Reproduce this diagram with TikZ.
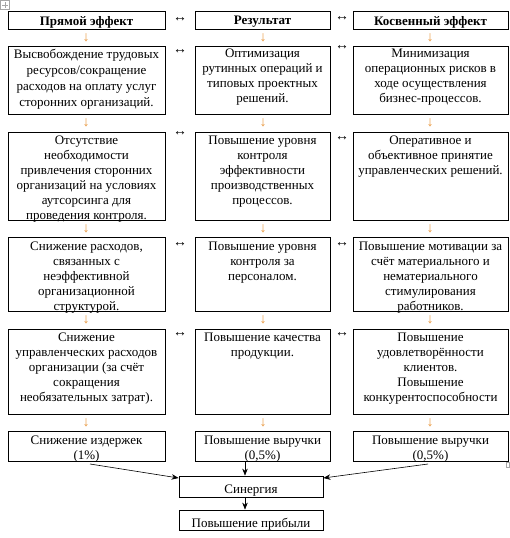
\documentclass[tikz,border=0pt]{standalone}
\usepackage{fontspec}
\setmainfont{Liberation Serif}
\usetikzlibrary{arrows.meta,fit}
\definecolor{arrorange}{HTML}{E8963C}
\newcommand\mybox[7]{%
  \node[boxst, fit={(#2,#3) (#4,#5)}] (#1) {};
  \node[txt, anchor=north, #6] (#1t) at (#1.north) {#7};
}
\begin{document}
\begin{tikzpicture}[x=1pt,y=-1pt,
  boxst/.style={draw, line width=0.8pt, inner sep=0pt},
  txt/.style={align=center, inner sep=0pt, font=\fontsize{13}{15}\selectfont},
  wide/.style={font=\fontsize{13}{16}\selectfont},
  tight/.style={font=\fontsize{13}{14.5}\selectfont},
  dn/.style={text=arrorange, inner sep=0pt, font=\fontsize{14}{14}\selectfont},
  lr/.style={inner sep=0pt, font=\fontsize{14}{14}\selectfont},
  blk/.style={-{Stealth[length=7pt,width=5.5pt]}, line width=0.6pt}]
\useasboundingbox (0,0) rectangle (510,538);
% Word artifacts
\draw[gray!70, line width=0.5pt] (0.5,0.5) rectangle (9,9);
\draw[gray!70, line width=0.5pt] (2,4.75) -- (7.5,4.75) (4.75,2) -- (4.75,7.5);
\draw[gray!70, line width=0.5pt] (506.5,462) rectangle (509.5,467);
% Row 0
\mybox{h1}{8}{11}{165}{29}{yshift=-5.5pt}{\textbf{Прямой эффект}}
\mybox{h2}{195}{11}{330}{29}{yshift=-5.5pt}{\textbf{Результат}}
\mybox{h3}{353}{11}{508}{29}{yshift=-5.5pt}{\textbf{Косвенный эффект}}
% Row 1
\mybox{a1}{8}{46}{165}{114}{yshift=-3.5pt, wide}{Высвобождение трудовых\\ресурсов/сокращение\\расходов на оплату услуг\\сторонних организаций.}
\mybox{a2}{195}{46}{330}{114}{yshift=-3.5pt}{Оптимизация\\рутинных операций и\\типовых проектных\\решений.}
\mybox{a3}{353}{46}{508}{114}{yshift=-3.5pt}{Минимизация\\операционных рисков в\\ходе осуществления\\бизнес-процессов.}
% Row 2
\mybox{b1}{8}{132}{165}{220}{yshift=-4pt}{Отсутствие\\необходимости\\привлечения сторонних\\организаций на условиях\\аутсорсинга для\\проведения контроля.}
\mybox{b2}{195}{132}{330}{220}{yshift=-4pt}{Повышение уровня\\контроля\\эффективности\\производственных\\процессов.}
\mybox{b3}{353}{132}{508}{220}{yshift=-4pt}{Оперативное и\\объективное принятие\\управленческих решений.}
% Row 3
\mybox{c1}{8}{237}{165}{311}{yshift=-5pt}{Снижение расходов,\\связанных с\\неэффективной\\организационной\\структурой.}
\mybox{c2}{195}{237}{330}{311}{yshift=-5pt}{Повышение уровня\\контроля за\\персоналом.}
\mybox{c3}{353}{237}{508}{311}{yshift=-5pt}{Повышение мотивации за\\счёт материального и\\нематериального\\стимулирования\\работников.}
% Row 4
\mybox{d1}{8}{329}{165}{414}{yshift=-4.5pt}{Снижение\\управленческих расходов\\организации (за счёт\\сокращения\\необязательных затрат).}
\mybox{d2}{195}{329}{330}{414}{yshift=-4.5pt}{Повышение качества\\продукции.}
\mybox{d3}{353}{329}{508}{414}{yshift=-4.5pt}{Повышение\\удовлетворённости\\клиентов.\\Повышение\\конкурентоспособности}
% Row 5
\mybox{e1}{8}{431}{165}{461}{yshift=-5.5pt, tight}{Снижение издержек\\(1\%)}
\mybox{e2}{195}{431}{330}{461}{yshift=-5.5pt, tight}{Повышение выручки\\(0,5\%)}
\mybox{e3}{353}{431}{508}{461}{yshift=-5.5pt, tight}{Повышение выручки\\(0,5\%)}
% bottom
\mybox{syn}{179}{476}{323}{497}{yshift=-9.5pt}{Синергия}
\mybox{prf}{179}{510}{323}{530}{yshift=-8pt}{Повышение прибыли}
% orange down arrows
\foreach \y [count=\i] in {37.5,123,228.5,320,422.5} {
  \node[dn] (dA\i) at (86,\y) {↓};
  \node[dn] (dB\i) at (263,\y) {↓};
  \node[dn] (dC\i) at (430,\y) {↓};
}
% double arrows
\node[lr] (l0) at (180,20) {↔};
\node[lr] (r0) at (342,19) {↔};
\node[lr] (l1) at (180,52) {↔};
\node[lr] (r1) at (342,48) {↔};
\node[lr] (l2) at (180,134) {↔};
\node[lr] (r2) at (342,139) {↔};
\node[lr] (l3) at (180,245) {↔};
\node[lr] (r3) at (342,245) {↔};
\node[lr] (l4) at (180,335) {↔};
\node[lr] (r4) at (342,335) {↔};
% black arrows
\coordinate (s1) at (90,464);
\coordinate (s2) at (245,462);
\coordinate (s3) at (428,464);
\draw[blk] (s1) -- ([yshift=8.5pt]syn.west);
\draw[blk] (s2) -- ([xshift=-6pt]syn.north);
\draw[blk] (s3) -- ([yshift=8.5pt]syn.east);
\draw[blk] ([xshift=-6pt]syn.south) -- ([xshift=-6pt]prf.north);
\end{tikzpicture}
\end{document}
